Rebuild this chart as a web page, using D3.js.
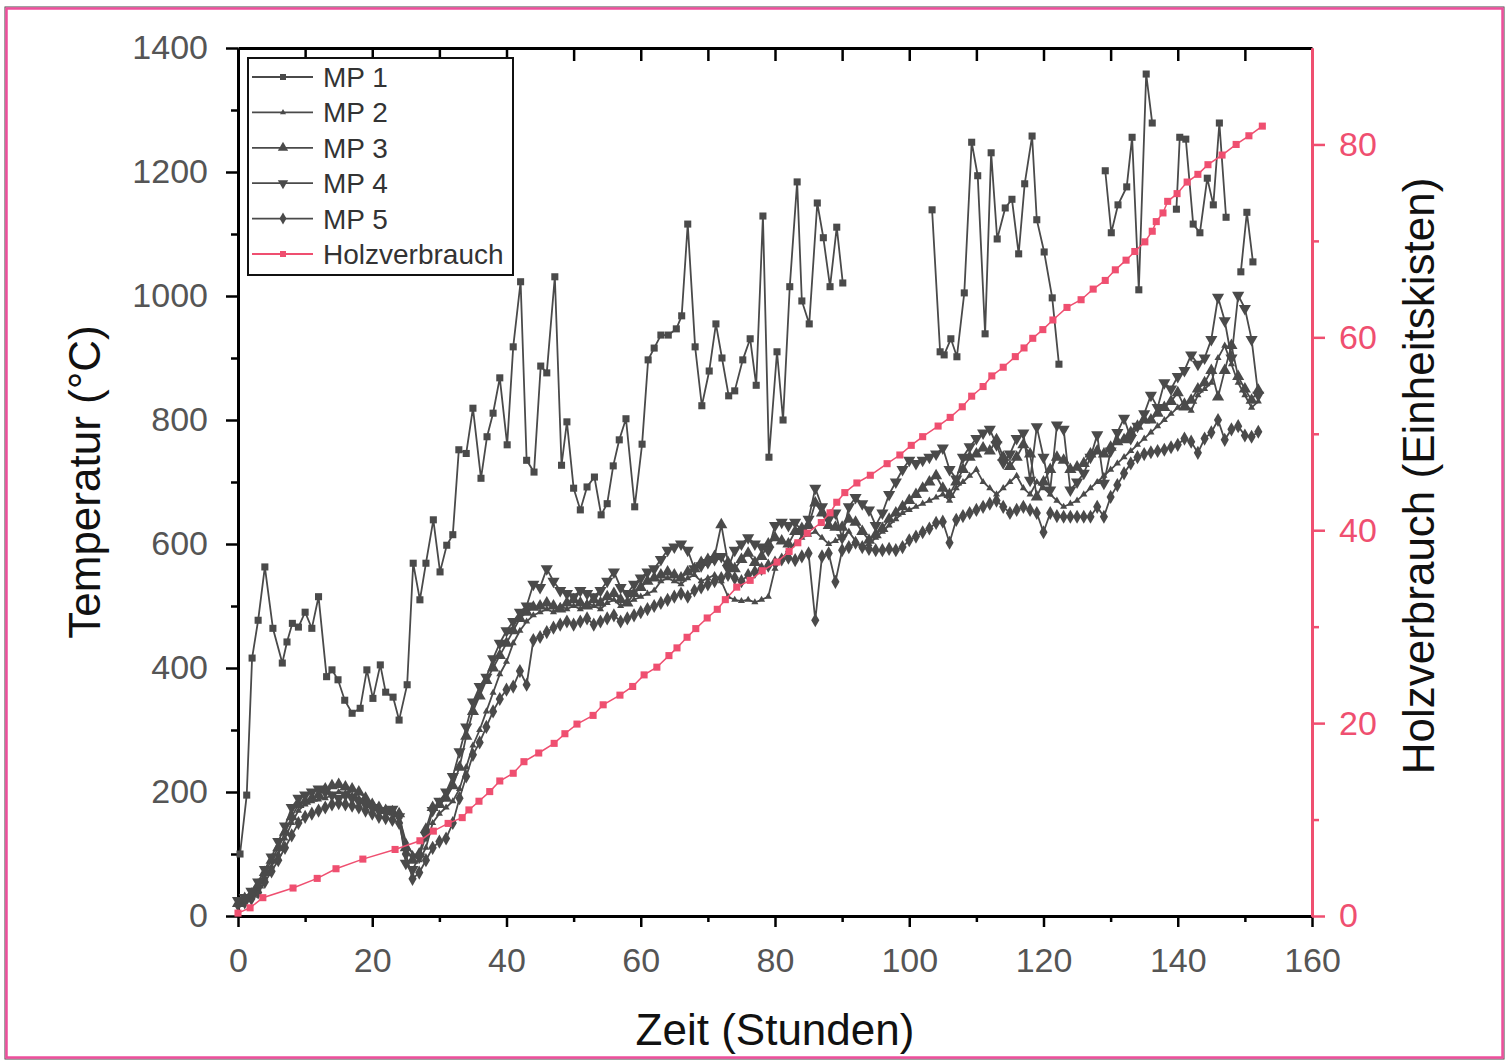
<!DOCTYPE html>
<html>
<head>
<meta charset="utf-8">
<script src="https://cdn.jsdelivr.net/npm/d3@7"></script>
<style>
  body { margin: 0; background: #fff; }
  svg text { font-family: "Liberation Sans", Arial, sans-serif; }
</style>
</head>
<body>
<div id="chart"></div>
<script>
// ---- data ----
var timeTicks = [0, 20, 40, 60, 80, 100, 120, 140, 160];
var tempTicks = [0, 200, 400, 600, 800, 1000, 1200, 1400];
var woodTicks = [0, 20, 40, 60, 80];
var seriesNames = ["MP 1", "MP 2", "MP 3", "MP 4", "MP 5", "Holzverbrauch"];

// MP 1: [hours, °C], null = no data
var mp1 = [[0.3,100],[1.3,195],[2.1,416],[3.0,477],[4.0,563],[5.2,464],[6.6,408],[7.3,442],[8.1,472],[9.0,466],
  [10.0,490],[11.0,464],[12.0,515],[13.2,386],[14.0,397],[14.9,381],[15.9,348],[17.0,327],[18.2,335],[19.2,397],
  [20.1,351],[21.2,405],[22.0,361],[23.1,353],[24.0,316],[25.2,373],[26.1,569],[27.1,510],[28.0,569],[29.1,639],
  [30.1,555],[31.1,598],[32.0,615],[32.9,752],[34.0,746],[35.0,819],[36.2,706],[37.1,773],[38.0,811],[39.0,868],
  [40.1,760],[41.0,918],[42.1,1023],[43.0,735],[44.1,716],[45.1,887],[46.0,876],[47.2,1031],[48.2,727],[49.0,797],
  [50.0,690],[51.0,655],[52.0,692],[53.1,708],[54.1,647],[55.0,665],[55.9,726],[56.8,768],[57.8,802],[59.1,660],
  [60.2,761],[61.1,897],[62.0,916],[63.0,937],[64.1,937],[65.3,947],[66.1,968],[67.0,1116],[68.1,918],[69.1,823],
  [70.2,879],[71.2,955],[72.1,900],[73.1,839],[74.0,847],[75.2,897],[76.3,931],[77.2,856],[78.2,1129],[79.1,740],
  [80.3,910],[81.2,800],[82.2,1015],[83.3,1184],[84.0,992],[85.1,955],[86.3,1150],[87.2,1094],[88.2,1015],[89.2,1111],
  [90.1,1021], null,
  [103.4,1139],[104.6,910],[105.2,905],[106.2,931],[107.1,902],[108.2,1005],[109.3,1248],[110.2,1194],[111.3,939],
  [112.2,1231],[113.1,1092],[114.3,1142],[115.3,1156],[116.3,1068],[117.2,1181],[118.3,1258],[119.0,1123],[120.1,1071],
  [121.3,997],[122.3,890], null,
  [129.2,1202],[130.1,1102],[131.1,1147],[132.4,1176],[133.2,1256],[134.2,1010],[135.3,1358],[136.2,1279], null,
  [139.8,1140],[140.3,1256],[141.2,1253],[142.3,1116],[143.3,1102],[144.4,1190],[145.3,1147],[146.2,1279],[147.2,1127], null,
  [149.4,1039],[150.3,1135],[151.2,1055]];

// MP 2 - MP 5: hourly readings
var hours = [0,1,2,3,4,5,6,7,8,9,10,11,12,13,14,15,16,17,18,19,20,21,22,23,24,25,26,27,28,29,
  30,31,32,33,34,35,36,37,38,39,40,41,42,43,44,45,46,47,48,49,50,51,52,53,54,55,56,57,58,59,
  60,61,62,63,64,65,66,67,68,69,70,71,72,73,74,75,76,77,78,79,80,81,82,83,84,85,86,87,88,89,
  90,91,92,93,94,95,96,97,98,99,100,101,102,103,104,105,106,107,108,109,110,111,112,113,114,115,116,117,118,119,
  120,121,122,123,124,125,126,127,128,129,130,131,132,133,134,135,136,137,138,139,140,141,142,143,144,145,146,147,148,149,
  150,151,152];

var mp2 = [22,26,32,45,62,80,100,125,150,170, 180,185,188,190,195,200,198,195,190,185,
  180,172,168,165,160,120,100,90,110,150, 165,175,185,205,240,275,300,330,360,390,
  410,440,460,475,485,490,495,490,500,495, 500,495,505,500,495,505,510,500,505,510,
  515,520,525,540,545,540,535,545,550,540, 545,550,540,515,510,508,510,506,510,515,
  560,575,590,600,610,615,620,610,600,605, 610,620,605,595,600,610,620,630,640,650,
  655,660,665,670,675,680,670,690,700,710, 720,700,690,680,690,700,710,690,680,700,
  690,680,670,660,665,670,680,690,700,710, 720,730,740,750,760,770,780,790,800,810,
  820,830,815,840,850,860,900,920,890,860, 840,820,830];

var mp3 = [20,28,35,50,70,90,110,135,160,180, 185,190,195,205,210,212,208,205,200,190,
  180,175,170,168,165,110,90,100,140,175, 180,190,210,240,290,330,355,380,400,420,
  440,460,480,490,498,500,505,500,495,505, 510,505,500,510,505,515,520,510,505,520,
  530,540,545,550,555,550,545,555,560,570, 575,580,631,570,560,575,585,570,580,600,
  610,605,600,620,625,630,666,650,630,627, 627,640,635,620,606,615,625,640,650,660,
  670,680,690,700,710,690,680,700,720,740, 745,755,750,768,740,725,740,760,745,676,
  700,720,740,735,720,724,730,745,750,745, 756,765,768,780,790,800,800,811,820,830,
  844,821,832,850,860,880,837,880,920,870, 850,832,848];

var mp4 = [25,30,40,55,75,95,120,145,175,190, 195,200,205,200,195,190,195,190,185,180,
  175,170,168,172,160,85,75,95,130,170, 185,200,225,265,305,345,370,385,415,440,
  460,475,490,500,535,530,560,540,525,520, 515,525,520,515,525,540,555,530,520,535,
  545,555,560,575,590,595,600,590,560,565, 570,575,580,560,590,600,610,600,595,590,
  630,635,630,635,620,640,690,660,640,650, 610,660,675,665,655,630,650,680,700,720,
  735,730,735,740,745,755,720,705,740,757, 770,779,785,760,731,745,770,779,703,789,
  740,687,792,785,687,700,714,740,776,698, 750,780,803,770,790,810,840,820,860,850,
  870,880,905,890,900,930,998,960,900,1001, 980,930,840];

var mp5 = [18,22,28,38,55,72,90,110,130,150, 160,165,170,175,180,182,180,178,175,170,
  165,160,158,155,150,100,60,70,90,110, 120,125,150,190,225,260,280,305,330,350,
  365,370,395,373,445,450,458,465,470,475, 470,475,480,470,475,480,485,475,480,485,
  490,495,500,505,510,515,520,515,525,530, 535,540,545,550,545,540,550,555,560,565,
  570,575,578,574,580,585,477,580,585,539, 590,595,602,595,592,590,590,592,590,595,
  606,612,619,625,634,636,602,639,645,650, 655,660,665,670,660,650,655,660,655,650,
  619,650,645,644,644,644,644,644,660,644, 676,695,714,730,740,745,748,750,752,756,
  760,770,765,747,770,780,800,768,785,790, 775,773,781];

// Holzverbrauch (cumulative boxes) at the marked times
var woodTime = [0,1.8,3.7,8.2,11.8,14.6,18.6,23.4,27.1,29.1, 31.3,33.4,34.4,35.9,37.5,39.0,41.0,42.6,44.8,47.1,
  48.7,50.5,52.9,54.4,56.9,58.8,60.5,62.4,64.2,65.4, 66.9,68.2,69.9,71.4,72.6,74.3,76.3,78.1,80.3,82.1,
  83.4,84.8,86.9,88.2,89.2,90.4,92.2,94.2,96.7,98.6, 100.3,102.0,104.3,106.1,107.9,109.3,111.0,112.3,114.0,115.8,
  117.1,118.4,119.9,121.4,123.5,125.6,127.4,129.2,130.7,132.3, 133.6,135.1,136.2,136.8,137.8,138.5,139.9,141.4,143.0,144.5,
  146.6,148.7,150.6,152.6];
var woodValue = [0.3,0.85,1.9,2.9,3.9,4.9,5.9,6.9,7.8,8.8, 9.6,10.2,11.0,11.9,12.9,14.0,14.8,16.0,16.9,17.9,
  18.9,19.9,20.8,21.9,22.9,23.8,25.0,25.8,27.0,27.8, 28.9,29.8,30.9,31.8,32.8,34.1,34.8,35.8,36.7,37.8,
  38.7,39.7,40.8,41.8,42.9,43.9,44.9,45.7,46.9,47.8, 48.8,49.7,50.8,51.7,52.8,53.9,54.9,56.0,56.9,58.0,
  58.9,59.9,60.8,61.8,63.1,63.9,65.0,65.9,67.0,68.0, 68.9,69.9,71.0,72.0,72.9,74.1,74.9,76.1,76.9,77.9,
  78.9,80.0,80.9,81.9];

// ---- drawing ----
var W = 1510, H = 1063;
var grey = "#4a4a4a", pink = "#ef4f70", labelGrey = "#555";

var svg = d3.select("#chart").append("svg")
  .attr("width", W).attr("height", H);

// page frame
svg.append("rect").attr("x", 5).attr("y", 7).attr("width", 1499).attr("height", 1052)
  .attr("fill", "none").attr("stroke", "#444").attr("stroke-width", 1);
svg.append("rect").attr("x", 6.5).attr("y", 8.5).attr("width", 1496).attr("height", 1049)
  .attr("fill", "none").attr("stroke", "#ee4f9c").attr("stroke-width", 2.5);

var x = d3.scaleLinear().domain([0, 160]).range([238, 1312]);
var yT = d3.scaleLinear().domain([0, 1400]).range([916, 48]);
var yW = d3.scaleLinear().domain([0, 90]).range([916, 48]);

function styleAxis(g, color, fill) {
  g.select(".domain").attr("stroke", color).attr("stroke-width", 3);
  g.selectAll(".tick line").attr("stroke", color).attr("stroke-width", 2.5);
  g.selectAll(".tick text").attr("fill", fill).style("font-size", "34px");
}

// bottom
svg.append("g").attr("transform", "translate(0,916)")
  .call(d3.axisBottom(x).tickValues(d3.range(10, 160, 20)).tickSize(6).tickFormat("").tickSizeOuter(0))
  .call(g => styleAxis(g, "#000", labelGrey));
svg.append("g").attr("transform", "translate(0,916)")
  .call(d3.axisBottom(x).tickValues(timeTicks).tickSize(11).tickPadding(21).tickFormat(d3.format("d")).tickSizeOuter(0))
  .call(g => styleAxis(g, "#000", labelGrey));

// top (ticks inside)
svg.append("g").attr("transform", "translate(0,48)")
  .call(d3.axisTop(x).tickValues(d3.range(10, 160, 10)).tickSize(-13).tickFormat("").tickSizeOuter(0))
  .call(g => styleAxis(g, "#000", labelGrey));

// left
svg.append("g").attr("transform", "translate(238,0)")
  .call(d3.axisLeft(yT).tickValues(d3.range(100, 1400, 200)).tickSize(7).tickFormat("").tickSizeOuter(0))
  .call(g => styleAxis(g, "#000", labelGrey));
svg.append("g").attr("transform", "translate(238,0)")
  .call(d3.axisLeft(yT).tickValues(tempTicks).tickSize(12).tickPadding(18).tickFormat(d3.format("d")).tickSizeOuter(0))
  .call(g => styleAxis(g, "#000", labelGrey));

// right (Holz)
svg.append("g").attr("transform", "translate(1312,0)")
  .call(d3.axisRight(yW).tickValues(d3.range(10, 90, 20)).tickSize(7).tickFormat("").tickSizeOuter(0))
  .call(g => styleAxis(g, pink, pink));
svg.append("g").attr("transform", "translate(1312,0)")
  .call(d3.axisRight(yW).tickValues(woodTicks).tickSize(13).tickPadding(14).tickFormat(d3.format("d")).tickSizeOuter(0))
  .call(g => styleAxis(g, pink, pink));

// axis titles
svg.append("text").attr("x", 775).attr("y", 1045).attr("text-anchor", "middle")
  .style("font-size", "44px").attr("fill", "#111").text("Zeit (Stunden)");
svg.append("text").attr("transform", "translate(100,482) rotate(-90)").attr("text-anchor", "middle")
  .style("font-size", "44px").attr("fill", "#111").text("Temperatur (°C)");
svg.append("text").attr("transform", "translate(1434,476) rotate(-90)").attr("text-anchor", "middle")
  .style("font-size", "44px").attr("fill", "#111").text("Holzverbrauch (Einheitskisten)");

// symbols
var symSquare = d3.symbol().type(d3.symbolSquare).size(50);
var symSmallTri = d3.symbol().type(d3.symbolTriangle).size(22);
var symTri = d3.symbol().type(d3.symbolTriangle).size(64);
var symDiamond = d3.symbol().type(d3.symbolDiamond).size(58);
var shapes = [
  {path: symSquare(), rot: 0},
  {path: symSmallTri(), rot: 0},
  {path: symTri(), rot: 0},
  {path: symTri(), rot: 180},
  {path: symDiamond(), rot: 0},
  {path: symSquare(), rot: 0}
];

function drawSeries(pts, shape, color, width, yScale) {
  var line = d3.line().defined(d => d != null)
    .x(d => x(d[0])).y(d => yScale(d[1]));
  svg.append("path").datum(pts)
    .attr("fill", "none").attr("stroke", color).attr("stroke-width", width)
    .attr("d", line);
  svg.append("g").selectAll("path")
    .data(pts.filter(d => d != null))
    .enter().append("path")
    .attr("d", shape.path)
    .attr("fill", color)
    .attr("transform", d => "translate(" + x(d[0]) + "," + yScale(d[1]) + ") rotate(" + shape.rot + ")");
}

var pair = (t, v) => t.map((h, i) => [h, v[i]]);

drawSeries(pair(hours, mp5), shapes[4], grey, 1.8, yT);
drawSeries(pair(hours, mp2), shapes[1], grey, 1.8, yT);
drawSeries(pair(hours, mp3), shapes[2], grey, 1.8, yT);
drawSeries(pair(hours, mp4), shapes[3], grey, 1.8, yT);
drawSeries(mp1, shapes[0], grey, 1.8, yT);
drawSeries(pair(woodTime, woodValue), shapes[5], pink, 1.5, yW);

// legend
var lg = svg.append("g");
lg.append("rect").attr("x", 248).attr("y", 58).attr("width", 265).attr("height", 217)
  .attr("fill", "#fff").attr("stroke", "#111").attr("stroke-width", 2);
seriesNames.forEach(function(name, i) {
  var cy = 77 + i * 35.4;
  var c = i == 5 ? pink : grey;
  lg.append("line").attr("x1", 252).attr("x2", 313).attr("y1", cy).attr("y2", cy)
    .attr("stroke", c).attr("stroke-width", 1.8);
  lg.append("path").attr("d", shapes[i].path).attr("fill", c)
    .attr("transform", "translate(283," + cy + ") rotate(" + shapes[i].rot + ") scale(0.85)");
  lg.append("text").attr("x", 323).attr("y", cy + 10).style("font-size", "28px")
    .attr("fill", "#333").text(name);
});
</script>
</body>
</html>
